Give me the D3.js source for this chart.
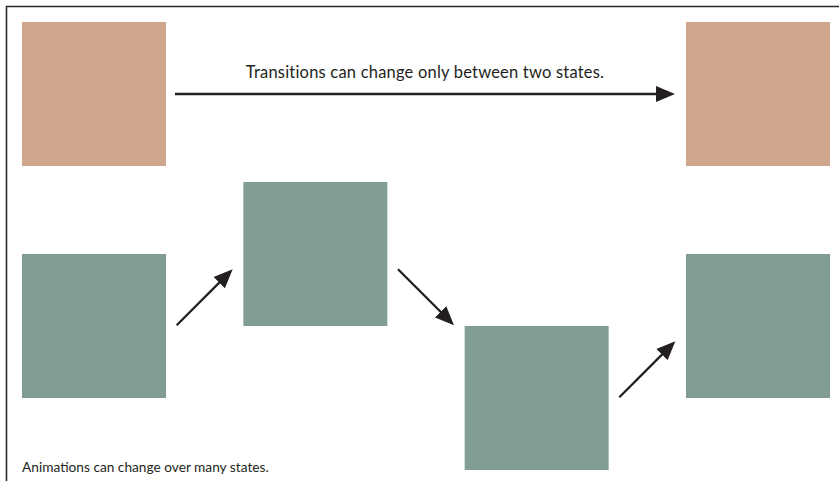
<!DOCTYPE html>
<html>
<head>
<meta charset="utf-8">
<script src="https://cdn.jsdelivr.net/npm/d3@7/dist/d3.min.js"></script>
<style>
  html, body { margin: 0; padding: 0; background: #ffffff; }
  svg { display: block; }
</style>
</head>
<body>
<script>
// ---- data ----
const steps = [0, 1, 2, 3];                 // time steps (columns)
const transitionStates = [0, 3];            // transition: only start and end
const animationLevels = [1, 0, 2, 1];       // animation: state level at each step
const arrowLevels = [1.6, 1.6, 2.6];        // vertical placement of animation arrows (in level units)
const arrowDirections = [-1, 1, -1];        // -1 = up, 1 = down
const labels = {
  transition: "Transitions can change only between two states.",
  animation: "Animations can change over many states."
};
const colors = { transition: "#cfa58c", animation: "#829e94", ink: "#231f20" };

// ---- layout ----
const W = 839, H = 481;
const box = 144;
const svg = d3.select("body").append("svg").attr("width", W).attr("height", H);

const x = d3.scaleLinear().domain([0, 3]).range([22, 686]);
const yLevel = d3.scaleLinear().domain([0, 2]).range([182, 326]);
const yTop = 22;

// frame (top and left edges visible)
svg.append("path")
  .attr("d", `M6.5,${H} L6.5,6.5 L${W},6.5`)
  .attr("fill", "none").attr("stroke", "#2a2a2a").attr("stroke-width", 1.6);

// arrow marker
const defs = svg.append("defs");
defs.append("marker")
  .attr("id", "head").attr("markerUnits", "userSpaceOnUse")
  .attr("viewBox", "0 -9 19 18").attr("markerWidth", 19).attr("markerHeight", 18)
  .attr("refX", 11).attr("refY", 0).attr("orient", "auto")
  .append("path").attr("d", "M0,-8L19,0L0,8Z").attr("fill", colors.ink);

// transition squares
svg.append("g").selectAll("rect").data(transitionStates).join("rect")
  .attr("x", d => x(d)).attr("y", yTop)
  .attr("width", box).attr("height", box)
  .attr("fill", colors.transition);

// transition arrow
const tY = yTop + box / 2;
const tx0 = x(transitionStates[0]) + box + 9;
const tx1 = x(transitionStates[1]) - 11;
svg.append("line")
  .attr("x1", tx0).attr("y1", tY).attr("x2", tx1 - 8).attr("y2", tY)
  .attr("stroke", colors.ink).attr("stroke-width", 2.5)
  .attr("marker-end", "url(#head)");

svg.append("text")
  .attr("x", (tx0 + tx1) / 2).attr("y", 78)
  .attr("text-anchor", "middle")
  .attr("font-family", "Lato, 'Open Sans', sans-serif").attr("font-size", 16.5)
  .attr("letter-spacing", 0.2)
  .attr("fill", "#231f20")
  .text(labels.transition);

// animation squares
svg.append("g").selectAll("rect").data(steps).join("rect")
  .attr("x", d => x(d)).attr("y", d => yLevel(animationLevels[d]))
  .attr("width", box).attr("height", box)
  .attr("fill", colors.animation);

// animation arrows
const arrowLen = 56;
svg.append("g").selectAll("line").data(arrowLevels).join("line")
  .each(function(lv, i) {
    const gx0 = x(steps[i]) + box, gx1 = x(steps[i + 1]);
    const cx = (gx0 + gx1) / 2;
    const cy = yLevel(lv);
    const dir = arrowDirections[i];
    const xs = cx - arrowLen / 2, xe = cx + arrowLen / 2;
    const ys = cy - dir * arrowLen / 2, ye = cy + dir * arrowLen / 2;
    const s = 8 / Math.SQRT2;
    d3.select(this)
      .attr("x1", xs).attr("y1", ys)
      .attr("x2", xe - s).attr("y2", ye - dir * s);
  })
  .attr("stroke", colors.ink).attr("stroke-width", 2.3)
  .attr("marker-end", "url(#head)");

svg.append("text")
  .attr("x", 22).attr("y", 472)
  .attr("font-family", "Lato, 'Open Sans', sans-serif").attr("font-size", 13.7)
  .attr("fill", "#231f20")
  .text(labels.animation);
</script>
</body>
</html>
